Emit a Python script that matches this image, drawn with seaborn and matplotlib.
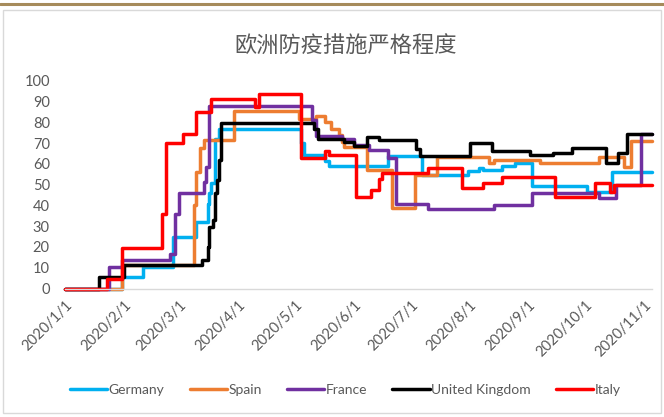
import numpy as np
import pandas as pd
import matplotlib
matplotlib.use('Agg')
import matplotlib.pyplot as plt
import matplotlib.dates as mdates
from matplotlib.lines import Line2D
from matplotlib.patches import Rectangle
from matplotlib.ticker import FuncFormatter
import seaborn as sns

# stringency index, values at the days they change
germany_dates = ['2020-01-01', '2020-01-31', '2020-02-11', '2020-02-27', '2020-03-10', '2020-03-16',
                 '2020-03-17', '2020-03-18', '2020-03-20', '2020-03-22', '2020-05-04', '2020-05-06',
                 '2020-05-17', '2020-05-19', '2020-06-19', '2020-07-07', '2020-07-31', '2020-08-06',
                 '2020-08-08', '2020-08-18', '2020-08-25', '2020-09-03', '2020-10-02', '2020-10-15',
                 '2020-11-05']
germany_vals = [0, 5.5, 10.6, 24.6, 32.1, 40.8, 46, 51, 72, 76.9, 70, 64.2, 61.3, 59, 63.9, 54.6,
                56.5, 58, 57, 58.8, 60.2, 49.5, 46.5, 56, 56]

spain_dates = ['2020-01-01', '2020-01-31', '2020-03-09', '2020-03-10', '2020-03-12', '2020-03-14',
               '2020-03-30', '2020-05-03', '2020-05-12', '2020-05-17', '2020-05-20', '2020-05-24',
               '2020-05-26', '2020-05-27', '2020-06-08', '2020-06-21', '2020-07-03', '2020-07-15',
               '2020-08-11', '2020-08-14', '2020-09-07', '2020-10-08', '2020-10-21', '2020-10-25',
               '2020-11-05']
spain_vals = [0, 11.1, 40, 56, 67.5, 71.3, 85.2, 81.8, 83, 80.2, 77, 73.8, 70.6, 68, 57, 38.9,
              54.6, 63.4, 60.2, 61.8, 60.2, 63.5, 58.6, 71, 71]

france_dates = ['2020-01-01', '2020-01-24', '2020-01-31', '2020-02-25', '2020-02-28', '2020-03-01',
                '2020-03-14', '2020-03-15', '2020-03-17', '2020-05-10', '2020-05-12', '2020-05-26',
                '2020-06-01', '2020-06-09', '2020-06-19', '2020-06-23', '2020-07-10', '2020-08-14',
                '2020-09-03', '2020-10-08', '2020-10-17', '2020-10-30', '2020-11-05']
france_vals = [0, 10.5, 13.7, 16.8, 36, 45.8, 51.3, 58.6, 87.7, 81, 73.5, 71.9, 69.3, 66.6, 63,
               40.7, 38.1, 40.1, 45.8, 43.4, 49.8, 74.5, 74.5]

uk_dates = ['2020-01-01', '2020-01-19', '2020-02-01', '2020-03-13', '2020-03-16', '2020-03-17',
            '2020-03-19', '2020-03-20', '2020-03-21', '2020-03-22', '2020-03-23', '2020-05-11',
            '2020-05-13', '2020-05-27', '2020-06-01', '2020-06-08', '2020-06-14', '2020-07-04',
            '2020-07-06', '2020-08-01', '2020-08-13', '2020-09-02', '2020-09-14', '2020-09-24',
            '2020-10-12', '2020-10-18', '2020-10-23', '2020-11-05']
uk_vals = [0, 5.5, 11.1, 13.9, 20, 29.7, 33, 45.8, 52, 62, 79.6, 77, 72, 70.6, 68.7, 73, 71.5,
           67, 63.7, 70, 66.2, 64.2, 65.4, 67.4, 60.5, 65, 74.3, 74.3]

italy_dates = ['2020-01-01', '2020-01-23', '2020-01-31', '2020-02-21', '2020-02-23', '2020-03-03',
               '2020-03-10', '2020-03-18', '2020-04-10', '2020-04-12', '2020-05-04', '2020-05-17',
               '2020-05-19', '2020-06-02', '2020-06-10', '2020-06-14', '2020-06-16', '2020-07-10',
               '2020-07-28', '2020-08-08', '2020-08-18', '2020-09-15', '2020-10-06', '2020-10-14',
               '2020-10-16', '2020-11-05']
italy_vals = [0, 4.6, 19.4, 36, 70, 74.5, 85, 91, 87.5, 93.5, 63, 66, 64.2, 44, 47.5, 52.5, 55.8,
              58, 48.3, 50.8, 53.5, 44, 51, 46.5, 49.8, 49.8]

countries = ['Germany', 'Spain', 'France', 'United Kingdom', 'Italy']
colors = ['#00b0f0', '#ed7d31', '#7030a0', '#000000', '#ff0000']

series = [(germany_dates, germany_vals), (spain_dates, spain_vals), (france_dates, france_vals),
          (uk_dates, uk_vals), (italy_dates, italy_vals)]
frames = []
for name, (d, v) in zip(countries, series):
    frames.append(pd.DataFrame({'date': pd.to_datetime(d), 'value': v, 'country': name}))
df = pd.concat(frames, ignore_index=True)

sns.set_style('white')
plt.rcParams['font.family'] = ['Lato', 'DejaVu Sans']

fig = plt.figure(figsize=(6.64, 4.17), dpi=100)

# outer frame like the report page
fig.add_artist(Line2D([0, 1], [0.991, 0.991], color='#a68b5b', lw=2.2))
fig.add_artist(Rectangle((0.005, 0.01), 0.99, 0.965, fill=False, ec='#d9d9d9', lw=1.0))

ax = fig.add_axes([0.098, 0.308, 0.884, 0.4985])

sns.lineplot(data=df, x='date', y='value', hue='country', hue_order=countries,
             palette=dict(zip(countries, colors)), drawstyle='steps-post',
             linewidth=2.5, errorbar=None, ax=ax, clip_on=False)

ax.set_xlim(pd.Timestamp('2020-01-01'), pd.Timestamp('2020-11-05'))
ax.set_ylim(0, 100)
ax.set_yticks(np.arange(0, 101, 10))

months = pd.date_range('2020-01-01', '2020-11-01', freq='MS')
ax.set_xticks(months)
ax.xaxis.set_major_formatter(FuncFormatter(
    lambda x, pos: '{d.year}/{d.month}/{d.day}'.format(d=mdates.num2date(x))))

for s in ['top', 'right', 'left']:
    ax.spines[s].set_visible(False)
ax.spines['bottom'].set_color('#d9d9d9')
ax.spines['bottom'].set_linewidth(1.0)

ax.tick_params(axis='x', length=5, width=1, color='#d9d9d9', labelsize=10.5,
               labelcolor='#595959', pad=2)
ax.tick_params(axis='y', length=0, labelsize=10.5, labelcolor='#595959', pad=11)
plt.setp(ax.get_xticklabels(), rotation=45, ha='right', va='top', rotation_mode='anchor')

ax.set_xlabel('')
ax.set_ylabel('')
ax.grid(False)

fig.text(0.52, 0.892, '欧洲防疫措施严格程度', ha='center', va='center', fontsize=16,
         color='#595959', family=['Noto Sans CJK SC', 'DejaVu Sans'])

handles, labels = ax.get_legend_handles_labels()
ax.legend(handles, labels, loc='center', bbox_to_anchor=(0.52, 0.065),
          bbox_transform=fig.transFigure, ncol=5, frameon=False, fontsize=10,
          handlelength=2.7, handletextpad=0.1, columnspacing=1.8, labelcolor='#595959')

fig.savefig('out.png', dpi=100)
